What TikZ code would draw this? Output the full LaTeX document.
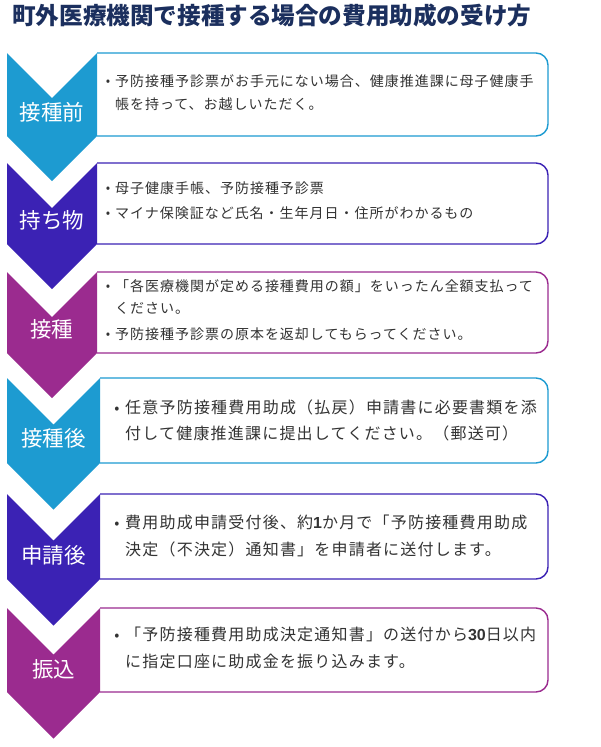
\documentclass[tikz,border=0pt]{standalone}
\usepackage{fontspec}
\setmainfont{Noto Sans CJK JP}
\newfontfamily\latfont{Liberation Sans}
\definecolor{cyanc}{RGB}{29,155,209}
\definecolor{indigoc}{RGB}{59,34,180}
\definecolor{purplec}{RGB}{155,43,143}
\definecolor{titlec}{RGB}{27,47,94}
\definecolor{txtc}{RGB}{51,51,51}
\tikzset{
  boxline/.style={line width=1.4pt, rounded corners=12pt},
  itemA/.style={anchor=west, inner sep=0pt, text=txtc, text height=0.88em, text depth=0.12em,
    font=\fontsize{14}{16}\selectfont\addfontfeature{LetterSpace=7}},
  itemB/.style={anchor=west, inner sep=0pt, text=txtc, text height=0.88em, text depth=0.12em,
    font=\fontsize{16}{18}\selectfont\addfontfeature{LetterSpace=7.5}},
  bulA/.style={inner sep=0pt, text=txtc, font=\fontsize{13}{16}\selectfont},
  bulB/.style={inner sep=0pt, text=txtc, font=\fontsize{15}{18}\selectfont},
  chevlabel/.style={inner sep=0pt, text=white, text height=0.88em, text depth=0.12em,
    font=\fontsize{21.5}{24}\selectfont},
}
% #1 right x, #2 top, #3 bottom, #4 color
\newcommand{\mychev}[4]{%
  \pgfmathsetmacro{\hw}{(#1-7)/2}%
  \pgfmathsetmacro{\xc}{7+\hw}%
  \draw[boxline, #4] (#1,#2) -- (548,#2) -- (548,#3) -- (#1,#3);
  \fill[#4] (7,#2) -- (\xc,#2+\hw) -- (#1,#2) -- (#1,#3) -- (\xc,#3+\hw) -- (7,#3) -- cycle;
}
\newcommand{\dg}[1]{{\latfont\bfseries #1}}
\begin{document}
\begin{tikzpicture}[x=1pt,y=-1pt]
\useasboundingbox (0,0) rectangle (600,747);
\fill[white] (0,0) rectangle (600,747);

\node[anchor=west, inner sep=0pt, text=titlec, font=\fontsize{23.6}{26}\selectfont\bfseries] (title) at (12,16) {町外医療機関で接種する場合の費用助成の受け方};

% step 1
\mychev{97}{53}{136}{cyanc}
\node[chevlabel] (l1) at (52,117) {接種前};
\node[bulA] (b1) at (108,83) {•};
\node[itemA] (t1a) at (115,83) {予防接種予診票がお手元にない場合、健康推進課に母子健康手};
\node[itemA] (t1b) at (115,106) {帳を持って、お越しいただく。};

% step 2
\mychev{97}{163}{244}{indigoc}
\node[chevlabel] (l2) at (52,225) {持ち物};
\node[bulA] (b2a) at (108,190) {•};
\node[itemA] (t2a) at (115,190) {母子健康手帳、予防接種予診票};
\node[bulA] (b2b) at (108,215) {•};
\node[itemA] (t2b) at (115,215) {マイナ保険証など氏名・生年月日・住所がわかるもの};

% step 3
\mychev{97}{272}{353}{purplec}
\node[chevlabel] (l3) at (52,334) {接種};
\node[bulA] (b3a) at (108,288) {•};
\node[itemA] (t3a) at (115,288) {「各医療機関が定める接種費用の額」をいったん全額支払って};
\node[itemA] (t3b) at (115,310) {ください。};
\node[bulA] (b3b) at (108,336) {•};
\node[itemA] (t3c) at (115,336) {予防接種予診票の原本を返却してもらってください。};

% step 4
\mychev{100}{378}{463}{cyanc}
\node[chevlabel] (l4) at (53.5,443) {接種後};
\node[bulB] (b4) at (117,410) {•};
\node[itemB] (t4a) at (125,410) {任意予防接種費用助成（払戻）申請書に必要書類を添};
\node[itemB] (t4b) at (125,436) {付して健康推進課に提出してください。（郵送可）};

% step 5
\mychev{100}{494}{579}{indigoc}
\node[chevlabel] (l5) at (53.5,560) {申請後};
\node[bulB] (b5) at (117,525) {•};
\node[itemB] (t5a) at (125,525) {費用助成申請受付後、約\dg{1}か月で「予防接種費用助成};
\node[itemB] (t5b) at (125,552) {決定（不決定）通知書」を申請者に送付します。};

% step 6
\mychev{100}{608}{692}{purplec}
\node[chevlabel] (l6) at (53.5,674) {振込};
\node[bulB] (b6) at (117,637) {•};
\node[itemB] (t6a) at (125,637) {「予防接種費用助成決定通知書」の送付から\dg{30}日以内};
\node[itemB] (t6b) at (125,664) {に指定口座に助成金を振り込みます。};
\end{tikzpicture}
\end{document}
